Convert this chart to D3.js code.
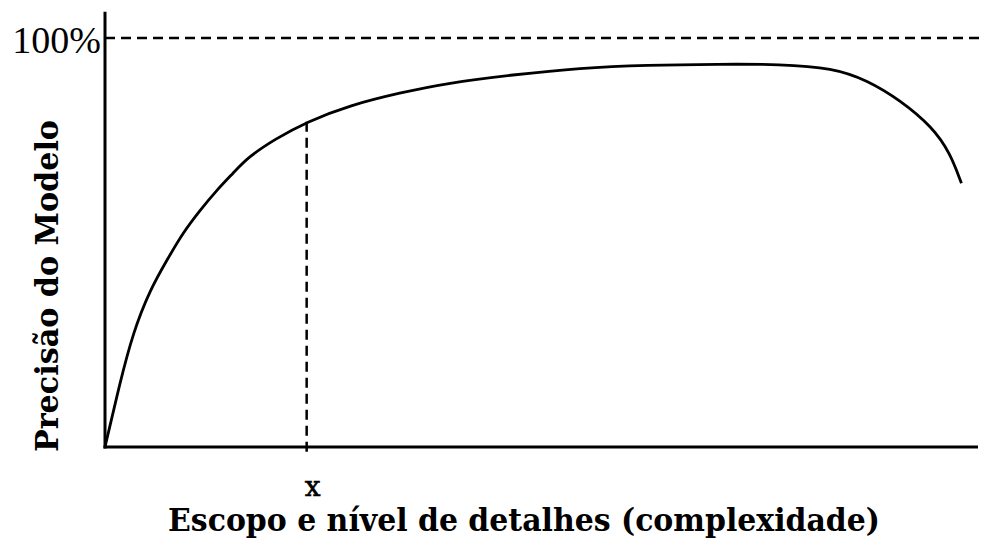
<!DOCTYPE html>
<html>
<head>
<meta charset="utf-8">
<script src="https://cdn.jsdelivr.net/npm/d3@7"></script>
<style>
  body { margin: 0; background: #fff; }
  svg { display: block; }
  .lbl { font-family: "DejaVu Serif", serif; }
</style>
</head>
<body>
<svg id="chart" width="991" height="538"></svg>
<script>
// curve (x = complexity 0..100, y = precision 0..100)
const complexity = [0, 1.7, 3.2, 5.15, 7.1, 8.9, 10.9, 12.8, 14.7, 16.4, 19.5, 23.1, 28.1, 33.8, 39.2, 46.7, 54.4, 62.1, 70.4, 77.3, 83.4, 87.3, 91.1, 94.8, 96.8, 98.1]
const precision  = [0, 15.6, 27.9, 38.4, 45.7, 52.3, 57.9, 62.8, 67.0, 70.9, 75.3, 79.5, 83.6, 86.6, 89.0, 91.0, 92.7, 93.4, 93.6, 93.6, 92.7, 89.7, 84.8, 78.2, 71.9, 64.5]
const markerX = 23.1
const markerLabel = 'x'
const topLabel = '100%'
const xTitle = 'Escopo e nível de detalhes (complexidade)'
const yTitle = 'Precisão do Modelo'

let svg = d3.select('#chart')

let xScale = d3.scaleLinear([0, 100], [105, 978])
let yScale = d3.scaleLinear([0, 100], [447, 38])

let points = complexity.map((c, i) => {return {'x': c, 'y': precision[i]}})

// axes (plain lines, no ticks)
svg.append('line')
    .attr('x1', xScale(0)).attr('x2', xScale(0))
    .attr('y1', yScale(0) + 1.5).attr('y2', yScale(106.4))
    .attr('stroke', '#000').attr('stroke-width', 3)
svg.append('line')
    .attr('x1', xScale(0) - 1.5).attr('x2', xScale(100))
    .attr('y1', yScale(0)).attr('y2', yScale(0))
    .attr('stroke', '#000').attr('stroke-width', 3)

// 100% reference line
svg.append('line')
    .attr('x1', xScale(0)).attr('x2', xScale(100.6))
    .attr('y1', yScale(100)).attr('y2', yScale(100))
    .attr('stroke', '#000').attr('stroke-width', 2.5)
    .attr('stroke-dasharray', '10,6')

svg.append('text')
    .attr('x', xScale(0) - 4).attr('y', yScale(100) + 15)
    .attr('text-anchor', 'end')
    .style('font-family', '"Liberation Serif", serif')
    .style('font-size', '38px')
    .text(topLabel)

// marker line at x
let markerY = precision[complexity.indexOf(markerX)]
svg.append('line')
    .attr('x1', xScale(markerX)).attr('x2', xScale(markerX))
    .attr('y1', yScale(markerY)).attr('y2', yScale(-2))
    .attr('stroke', '#000').attr('stroke-width', 2.5)
    .attr('stroke-dasharray', '10,6')

// curve
let line = d3.line()
    .x((d) => {return xScale(d.x)})
    .y((d) => {return yScale(d.y)})
    .curve(d3.curveBasis)

svg.append('path')
    .datum(points)
    .attr('d', line)
    .attr('fill', 'none')
    .attr('stroke', '#000')
    .attr('stroke-width', 2.8)

// labels (reference font is a condensed bold serif, so squeeze to its width)
svg.append('text')
    .attr('class', 'lbl')
    .attr('x', xScale(markerX) + 6).attr('y', 496)
    .attr('text-anchor', 'middle')
    .style('font-size', '28px')
    .style('stroke', '#000').style('stroke-width', 0.6)
    .text(markerLabel)

svg.append('text')
    .attr('class', 'lbl')
    .attr('x', 168).attr('y', 531)
    .attr('textLength', 712)
    .attr('lengthAdjust', 'spacingAndGlyphs')
    .style('font-size', '31px')
    .style('font-weight', 'bold')
    .text(xTitle)

svg.append('text')
    .attr('class', 'lbl')
    .attr('transform', 'translate(58,452) rotate(-90)')
    .attr('textLength', 332)
    .attr('lengthAdjust', 'spacingAndGlyphs')
    .style('font-size', '32px')
    .style('font-weight', 'bold')
    .text(yTitle)
</script>
</body>
</html>
